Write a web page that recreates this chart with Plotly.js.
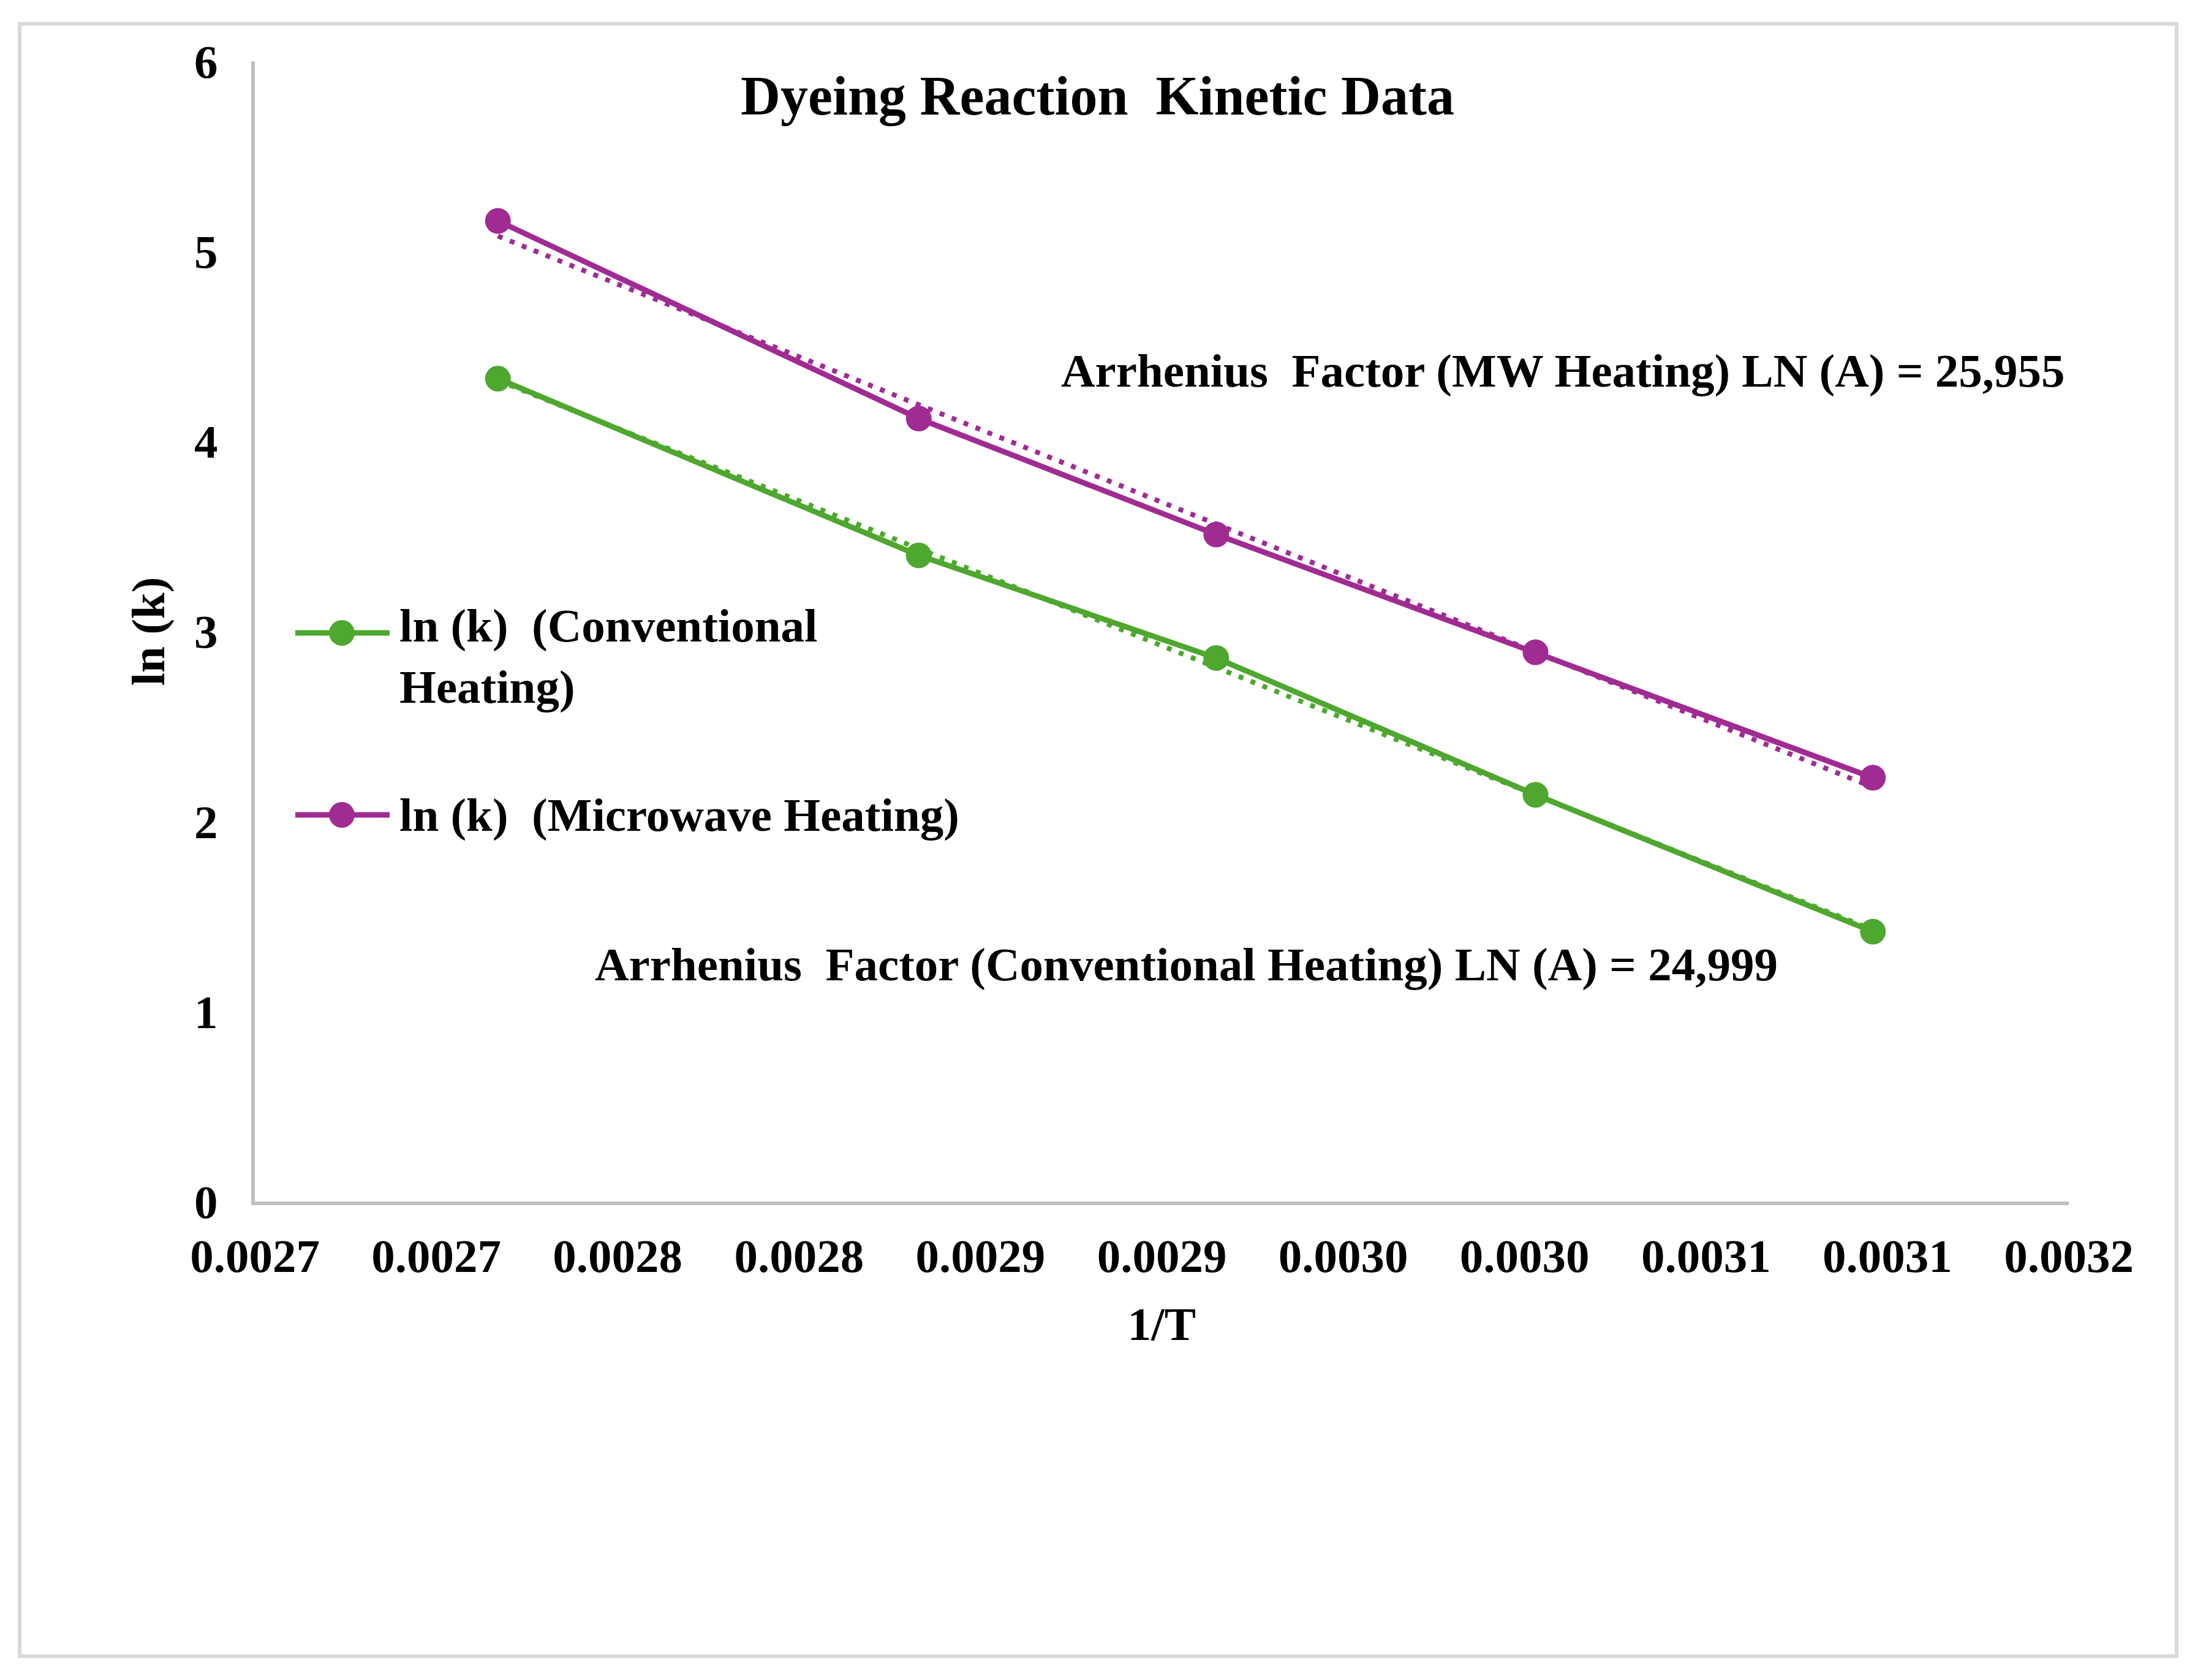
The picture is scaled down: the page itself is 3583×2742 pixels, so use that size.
<!DOCTYPE html>
<html>
<head>
<meta charset="utf-8">
<script src="https://cdn.plot.ly/plotly-3.0.1.min.js"></script>
<style>
  html, body { margin: 0; padding: 0; background: #ffffff; }
  #chart { width: 3583px; height: 2742px; }
</style>
</head>
<body>
<div id="chart"></div>
<script>
// ---- data ----
const invT = [0.002717, 0.002833, 0.002915, 0.003003, 0.003096];
const lnkConventional = [4.33, 3.40, 2.86, 2.14, 1.42];
const lnkMicrowave = [5.16, 4.12, 3.51, 2.89, 2.23];
// linear trendlines (endpoints)
const trendX = [0.002717, 0.003096];
const trendConventional = [4.32, 1.43];
const trendMicrowave = [5.08, 2.18];
// axis ticks
const xTickVals = [0.00265, 0.00270, 0.00275, 0.00280, 0.00285, 0.00290, 0.00295, 0.00300, 0.00305, 0.00310, 0.00315];
const xTickText = ['0.0027', '0.0027', '0.0028', '0.0028', '0.0029', '0.0029', '0.0030', '0.0030', '0.0031', '0.0031', '0.0032'];
const yTickVals = [0, 1, 2, 3, 4, 5, 6];
const seriesNames = ['ln (k)  (Conventional Heating)', 'ln (k)  (Microwave Heating)'];
const chartTitle = 'Dyeing Reaction  Kinetic Data';
const xTitle = '1/T';
const yTitle = 'ln (k)';
const noteMW = 'Arrhenius\u00a0 Factor (MW Heating) LN (A) = 25,955';
const noteConv = 'Arrhenius\u00a0 Factor (Conventional Heating) LN (A) = 24,999';

const GREEN = '#4EA72E';
const PURPLE = '#A02B93';
const FONT = 'Liberation Serif, Times New Roman, serif';
const FS = 77;

const traces = [
  { x: trendX, y: trendConventional, mode: 'lines', showlegend: false, hoverinfo: 'skip',
    line: { color: GREEN, width: 8, dash: '8px,13px' } },
  { x: trendX, y: trendMicrowave, mode: 'lines', showlegend: false, hoverinfo: 'skip',
    line: { color: PURPLE, width: 8, dash: '8px,13px' } },
  { x: invT, y: lnkConventional, name: seriesNames[0], mode: 'lines+markers', showlegend: false,
    line: { color: GREEN, width: 9 }, marker: { color: GREEN, size: 42 } },
  { x: invT, y: lnkMicrowave, name: seriesNames[1], mode: 'lines+markers', showlegend: false,
    line: { color: PURPLE, width: 9 }, marker: { color: PURPLE, size: 42 } }
];

// plot area: x 416..3377, y 100..1961 (pixels)
const W = 3583, H = 2742;
const L = 416, R = 3583 - 3377, T = 100, B = 2742 - 1961;
const PW = W - L - R, PH = H - T - B;
const px = v => (v - L) / PW;          // page x -> paper x
const py = v => (H - B - v) / PH;      // page y -> paper y

const legendRows = [
  { color: GREEN, y: 1033, textY: 1071, text: 'ln (k)  (Conventional<br>Heating)' },
  { color: PURPLE, y: 1330, textY: 1330, text: seriesNames[1] }
];

const shapes = [
  // outer chart border
  { type: 'rect', xref: 'paper', yref: 'paper', x0: px(32), x1: px(3553), y0: py(2703), y1: py(39),
    line: { color: '#D9D9D9', width: 6 }, fillcolor: 'rgba(0,0,0,0)', layer: 'below' }
];
const annotations = [
  { xref: 'paper', yref: 'paper', x: px(1730), y: py(605), xanchor: 'left', yanchor: 'middle',
    text: noteMW, showarrow: false, font: { family: FONT, size: FS, color: '#000', weight: 'bold' } },
  { xref: 'paper', yref: 'paper', x: px(969), y: py(1574), xanchor: 'left', yanchor: 'middle',
    text: noteConv, showarrow: false, font: { family: FONT, size: FS, color: '#000', weight: 'bold' } }
];
legendRows.forEach(r => {
  shapes.push({ type: 'line', xref: 'paper', yref: 'paper', x0: px(482), x1: px(636), y0: py(r.y), y1: py(r.y),
    line: { color: r.color, width: 9 } });
  shapes.push({ type: 'circle', xref: 'paper', yref: 'paper', xsizemode: 'pixel', ysizemode: 'pixel',
    xanchor: px(558), yanchor: py(r.y), x0: -21, x1: 21, y0: -21, y1: 21,
    fillcolor: r.color, line: { color: r.color, width: 0 } });
  annotations.push({ xref: 'paper', yref: 'paper', x: px(650), y: py(r.textY), xanchor: 'left', yanchor: 'middle',
    align: 'left', text: r.text, showarrow: false,
    font: { family: FONT, size: FS, color: '#000', weight: 'bold' } });
});

const layout = {
  width: W, height: H,
  margin: { l: L, r: R, t: T, b: B, pad: 0 },
  paper_bgcolor: '#ffffff', plot_bgcolor: '#ffffff',
  showlegend: false,
  font: { family: FONT, size: FS, color: '#000000' },
  title: { text: chartTitle, x: 0.5, xref: 'container', y: 1 - 155 / H, yref: 'container',
    xanchor: 'center', yanchor: 'middle',
    font: { family: FONT, size: 90, color: '#000', weight: 'bold' } },
  xaxis: {
    range: [0.00265, 0.00315], tickmode: 'array', tickvals: xTickVals, ticktext: xTickText,
    showgrid: false, zeroline: false, showline: true, linecolor: '#BFBFBF', linewidth: 6,
    ticks: '', ticklabelstandoff: 17,
    tickfont: { family: FONT, size: FS, color: '#000', weight: 'bold' },
    title: { text: xTitle, standoff: 43, font: { family: FONT, size: FS, color: '#000', weight: 'bold' } },
    automargin: false, fixedrange: true
  },
  yaxis: {
    range: [0, 6], tickmode: 'array', tickvals: yTickVals,
    showgrid: false, zeroline: false, showline: true, linecolor: '#BFBFBF', linewidth: 6,
    ticks: '', ticklabelstandoff: 39,
    tickfont: { family: FONT, size: FS, color: '#000', weight: 'bold' },
    title: { text: yTitle, standoff: 25, font: { family: FONT, size: FS, color: '#000', weight: 'bold' } },
    automargin: false, fixedrange: true
  },
  shapes: shapes,
  annotations: annotations
};

Plotly.newPlot('chart', traces, layout, { displayModeBar: false, staticPlot: true });
</script>
</body>
</html>
